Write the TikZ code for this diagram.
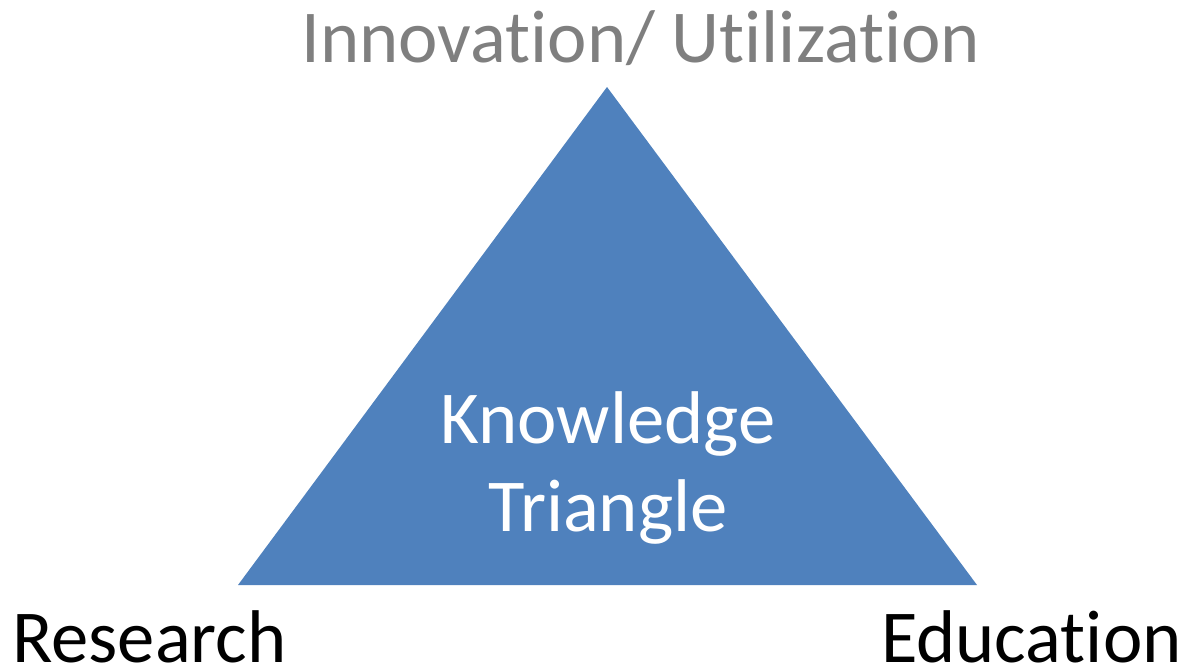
\documentclass[tikz,border=0pt]{standalone}
\usepackage{fontspec}
\setmainfont{Carlito}[Ligatures={NoCommon,NoRequired,NoContextual}]
\usetikzlibrary{positioning}
\definecolor{triblue}{HTML}{4F81BD}
\definecolor{topgray}{HTML}{7F7F7F}

\begin{document}
\begin{tikzpicture}[
    x=0.75pt, y=-0.75pt,
    corner/.style={inner sep=0pt, text depth=0pt, font=\fontsize{56}{66}\selectfont},
    inner/.style={inner sep=0pt, align=center, text=white, font=\fontsize{56}{66}\selectfont}
]
\useasboundingbox (0,0) rectangle (1184,671);

% Corners
\coordinate (apex) at (607,87);
\coordinate (left) at (238,585);
\coordinate (right) at (977,585);

% Triangle
\fill[triblue] (apex) -- (right) -- (left) -- cycle;
\node[inner, anchor=north] (kt) at (608,391) {Knowledge\\Triangle};

% Labels
\node[corner, anchor=base, text=topgray] (innov) at (641,62) {Innovation/ Utilization};
\node[corner, anchor=base west] (research) at (12,662) {Research};
\node[corner, anchor=base east] (education) at (1182,662) {Education};

\end{tikzpicture}
\end{document}
